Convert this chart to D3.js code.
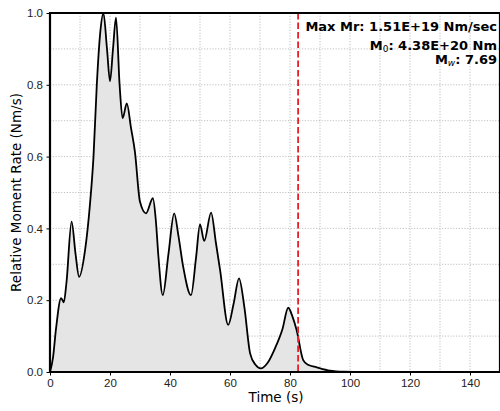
<!DOCTYPE html>
<html>
<head>
<meta charset="utf-8">
<script src="https://cdn.jsdelivr.net/npm/d3@7"></script>
<style>
  body { margin: 0; background: #fff; }
  svg { display: block; font-family: "DejaVu Sans", sans-serif; }
  .grid line { stroke: #b0b0b0; stroke-width: 0.8; stroke-dasharray: 1.2,1.6; }
  .axis path { display: none; }
  .axis line { stroke: #000; stroke-width: 1; }
  .axis text { font-size: 11.5px; fill: #222; }
  .label { font-size: 13.5px; fill: #000; }
  .note { font-size: 13px; font-weight: bold; fill: #000; }
</style>
</head>
<body>
<svg width="500" height="411"></svg>
<script>
// source time function
var time = [0, 1, 2, 3.7, 4.6, 5.5, 7.2, 8.5, 9.7, 11.7, 13.3, 14.5, 15.6, 16.8, 17.8,
            19, 20, 21, 22, 23.2, 24.2, 25.6, 27, 28.3, 30, 32, 34.3, 35.3, 36.1, 37.6,
            39.5, 41.4, 42.8, 44.4, 47, 48.7, 50, 51.4, 53.7, 55.3, 56.7, 59.4, 61.2, 63,
            64.8, 66.7, 68.5, 70.3, 72.5, 75, 77.5, 79.4, 80.8, 82.2, 84.4, 86, 88.9, 93.3,
            98, 105, 150];
var rate = [0, 0.04, 0.12, 0.206, 0.194, 0.25, 0.419, 0.33, 0.265, 0.34, 0.465, 0.6, 0.80, 0.95, 1.0,
            0.9, 0.81, 0.9, 0.987, 0.8, 0.707, 0.748, 0.68, 0.614, 0.474, 0.442, 0.484, 0.42, 0.326, 0.214,
            0.33, 0.442, 0.38, 0.293, 0.214, 0.32, 0.411, 0.365, 0.444, 0.36, 0.284, 0.131, 0.19, 0.261,
            0.18, 0.052, 0.02, 0.010, 0.025, 0.066, 0.12, 0.179, 0.155, 0.117, 0.033, 0.02, 0.013, 0.004,
            0.001, 0, 0];
var endTime = 82.7;   // red dashed marker
var xTicks = [0, 20, 40, 60, 80, 100, 120, 140];
var yTicks = [0.0, 0.2, 0.4, 0.6, 0.8, 1.0];
var noteLines = ["Max Mr: 1.51E+19 Nm/sec", "4.38E+20 Nm", "7.69"];

var margin = {top: 13, right: 0, bottom: 39, left: 50};
var svgWidth = 500, svgHeight = 411;
var width = 450,
    height = svgHeight - margin.top - margin.bottom; // 359

var svg = d3.select("svg");
var g = svg.append("g")
    .attr("transform", "translate(" + margin.left + "," + margin.top + ")");

var x = d3.scaleLinear().domain([0, 150]).range([0, width]);
var y = d3.scaleLinear().domain([0, 1]).range([height, 0]);

g.append("clipPath").attr("id", "clip")
  .append("rect").attr("width", width).attr("height", height);

// grid
g.append("g").attr("class", "grid")
  .selectAll("line").data(d3.range(10, 150, 10))
  .enter().append("line")
    .attr("x1", function(d){ return x(d); }).attr("x2", function(d){ return x(d); })
    .attr("y1", 0).attr("y2", height);
g.append("g").attr("class", "grid")
  .selectAll("line").data(d3.range(1, 10).map(function(d){ return d / 10; }))
  .enter().append("line")
    .attr("y1", function(d){ return y(d); }).attr("y2", function(d){ return y(d); })
    .attr("x1", 0).attr("x2", width);

var pts = time.map(function(t, i){ return [t, rate[i]]; });

var body = g.append("g").attr("clip-path", "url(#clip)");

body.append("path").datum(pts)
  .attr("fill", "#e5e5e5")
  .attr("d", d3.area().curve(d3.curveMonotoneX)
    .x(function(d){ return x(d[0]); })
    .y0(y(0))
    .y1(function(d){ return y(d[1]); }));

body.append("path").datum(pts)
  .attr("fill", "none").attr("stroke", "#000").attr("stroke-width", 1.8)
  .attr("d", d3.line().curve(d3.curveMonotoneX)
    .x(function(d){ return x(d[0]); })
    .y(function(d){ return y(d[1]); }));

body.append("line")
  .attr("x1", x(endTime)).attr("x2", x(endTime))
  .attr("y1", 0).attr("y2", height)
  .attr("stroke", "#e8202a").attr("stroke-width", 1.8)
  .attr("stroke-dasharray", "6.5,3");

// axes
g.append("g").attr("class", "axis")
  .attr("transform", "translate(0," + height + ")")
  .call(d3.axisBottom(x).tickValues(xTicks).tickSize(3.5).tickPadding(3.5).tickFormat(d3.format("d")));
g.append("g").attr("class", "axis")
  .call(d3.axisLeft(y).tickValues(yTicks).tickSize(3.5).tickPadding(3.5).tickFormat(d3.format(".1f")));

// spines
g.append("path")
  .attr("d", "M" + width + ",0H0V" + height + "H" + width)
  .attr("fill", "none").attr("stroke", "#000").attr("stroke-width", 2.2);
g.append("line").attr("x1", width).attr("x2", width).attr("y1", 0).attr("y2", height)
  .attr("stroke", "#000").attr("stroke-width", 2.2);

// labels
svg.append("text").attr("class", "label")
  .attr("x", margin.left + 226).attr("y", 402).attr("text-anchor", "middle")
  .text("Time (s)");
svg.append("text").attr("class", "label")
  .attr("transform", "translate(21," + (margin.top + height / 2) + ") rotate(-90)")
  .attr("text-anchor", "middle")
  .text("Relative Moment Rate (Nm/s)");

// annotation
var nx = 497;
svg.append("text").attr("class", "note").attr("x", nx).attr("y", 31)
  .attr("text-anchor", "end").text(noteLines[0]);
var t2 = svg.append("text").attr("class", "note").attr("x", nx).attr("y", 49.5)
  .attr("text-anchor", "end");
t2.append("tspan").text("M");
t2.append("tspan").attr("font-size", "9px").attr("font-weight", "normal").attr("dy", 2).text("0");
t2.append("tspan").attr("dy", -2).text(": " + noteLines[1]);
var t3 = svg.append("text").attr("class", "note").attr("x", nx).attr("y", 63.5)
  .attr("text-anchor", "end");
t3.append("tspan").text("M");
t3.append("tspan").attr("font-size", "9px").attr("font-weight", "normal").attr("font-style", "italic").attr("dy", 2).text("w");
t3.append("tspan").attr("dy", -2).text(": " + noteLines[2]);
</script>
</body>
</html>
